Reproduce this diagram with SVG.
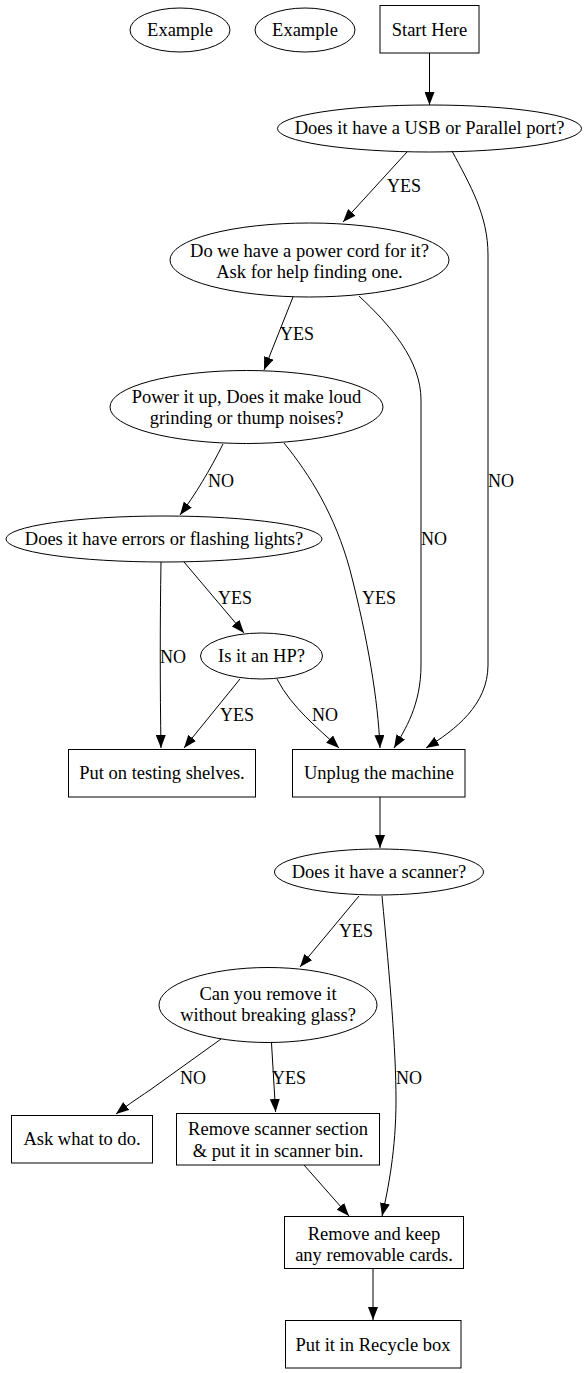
<svg xmlns="http://www.w3.org/2000/svg" width="588" height="1373" viewBox="0 0 588 1373">
<style>
.n{fill:none;stroke:#000;stroke-width:1}
.t{font-family:"Liberation Serif","Times New Roman",serif;font-size:18.5px;fill:#000;text-anchor:middle}
.l{font-family:"Liberation Serif","Times New Roman",serif;font-size:18px;fill:#000}
.e{fill:none;stroke:#000;stroke-width:1;marker-end:url(#ah)}
</style>
<defs>
<marker id="ah" markerUnits="userSpaceOnUse" markerWidth="14" markerHeight="10" refX="13" refY="5" orient="auto">
<path d="M0,0 L13,5 L0,10 z" fill="#000"/>
</marker>
</defs>
<rect width="588" height="1373" fill="#fff"/>
<g id="edges">
<path class="e" d="M429.5,53 L429.5,105"/>
<path class="e" d="M407,152 L343,222"/>
<path class="e" d="M452,151 C470,185 488,215 488,255 L488,665 C488,705 455,730 426,748"/>
<path class="e" d="M293,297 L264,370"/>
<path class="e" d="M359,296 C390,325 421,360 421,400 L421,665 C421,705 405,730 394,748"/>
<path class="e" d="M223,444 C210,470 195,495 180,515"/>
<path class="e" d="M284,443 C310,475 335,515 350,570 C368,640 378,700 380,748"/>
<path class="e" d="M161,562 C160,620 160,690 161,748"/>
<path class="e" d="M184,562 L244,633"/>
<path class="e" d="M240,679 L184,748"/>
<path class="e" d="M277,679 C292,708 318,728 339,748"/>
<path class="e" d="M380,797 L380,848"/>
<path class="e" d="M359,896 L300,967"/>
<path class="e" d="M382,896 C390,980 396,1050 396,1100 C396,1150 388,1190 382,1216"/>
<path class="e" d="M221,1039 L150,1090 C135,1100 125,1107 116,1114"/>
<path class="e" d="M271.5,1043 L275.6,1112"/>
<path class="e" d="M304,1165 L349,1216"/>
<path class="e" d="M373,1269 L373,1320"/>
<text class="l" x="387" y="192">YES</text>
<text class="l" x="488" y="487">NO</text>
<text class="l" x="280" y="340">YES</text>
<text class="l" x="421" y="545">NO</text>
<text class="l" x="208" y="487">NO</text>
<text class="l" x="362" y="604">YES</text>
<text class="l" x="218" y="604">YES</text>
<text class="l" x="160" y="663">NO</text>
<text class="l" x="220" y="721">YES</text>
<text class="l" x="312" y="721">NO</text>
<text class="l" x="339" y="937">YES</text>
<text class="l" x="180" y="1084">NO</text>
<text class="l" x="272" y="1084">YES</text>
<text class="l" x="396" y="1084">NO</text>
</g>
<g id="example1"><ellipse class="n" cx="180" cy="30" rx="50" ry="22"/><text class="t" x="180" y="36">Example</text></g>
<g id="example2"><ellipse class="n" cx="305" cy="30" rx="50" ry="22"/><text class="t" x="305" y="36">Example</text></g>
<g id="start"><rect class="n" x="380" y="5.5" width="99" height="47.5"/><text class="t" x="429.5" y="36">Start Here</text></g>
<g id="usb"><ellipse class="n" cx="429.5" cy="128.5" rx="152" ry="23.5"/><text class="t" x="429.5" y="134">Does it have a USB or Parallel port?</text></g>
<g id="cord"><ellipse class="n" cx="309.5" cy="260" rx="139.5" ry="37"/><text class="t" x="309.5" y="257">Do we have a power cord for it?</text><text class="t" x="309.5" y="278">Ask for help finding one.</text></g>
<g id="power"><ellipse class="n" cx="246.5" cy="407" rx="136.5" ry="36.5"/><text class="t" x="246.5" y="403">Power it up, Does it make loud</text><text class="t" x="246.5" y="424">grinding or thump noises?</text></g>
<g id="errors"><ellipse class="n" cx="164" cy="539" rx="158" ry="23"/><text class="t" x="164" y="545">Does it have errors or flashing lights?</text></g>
<g id="hp"><ellipse class="n" cx="261.5" cy="656" rx="61" ry="23"/><text class="t" x="261.5" y="662">Is it an HP?</text></g>
<g id="testing"><rect class="n" x="68.5" y="749.5" width="187" height="47.5"/><text class="t" x="162" y="779">Put on testing shelves.</text></g>
<g id="unplug"><rect class="n" x="292.5" y="749.5" width="172.5" height="47.5"/><text class="t" x="379" y="779">Unplug the machine</text></g>
<g id="scanner"><ellipse class="n" cx="379" cy="872" rx="104.5" ry="23"/><text class="t" x="379" y="878">Does it have a scanner?</text></g>
<g id="can"><ellipse class="n" cx="268" cy="1005" rx="109" ry="37.5"/><text class="t" x="268" y="1000">Can you remove it</text><text class="t" x="268" y="1021">without breaking glass?</text></g>
<g id="ask"><rect class="n" x="11.5" y="1115.5" width="141" height="47.5"/><text class="t" x="82" y="1145">Ask what to do.</text></g>
<g id="removescanner"><rect class="n" x="176.5" y="1113.5" width="203" height="51.5"/><text class="t" x="278" y="1135">Remove scanner section</text><text class="t" x="278" y="1157">&amp; put it in scanner bin.</text></g>
<g id="cards"><rect class="n" x="284.5" y="1216.5" width="179" height="52"/><text class="t" x="374" y="1240">Remove and keep</text><text class="t" x="374" y="1261">any removable cards.</text></g>
<g id="recycle"><rect class="n" x="285.5" y="1320.5" width="175.5" height="47.5"/><text class="t" x="373" y="1351">Put it in Recycle box</text></g>
</svg>
